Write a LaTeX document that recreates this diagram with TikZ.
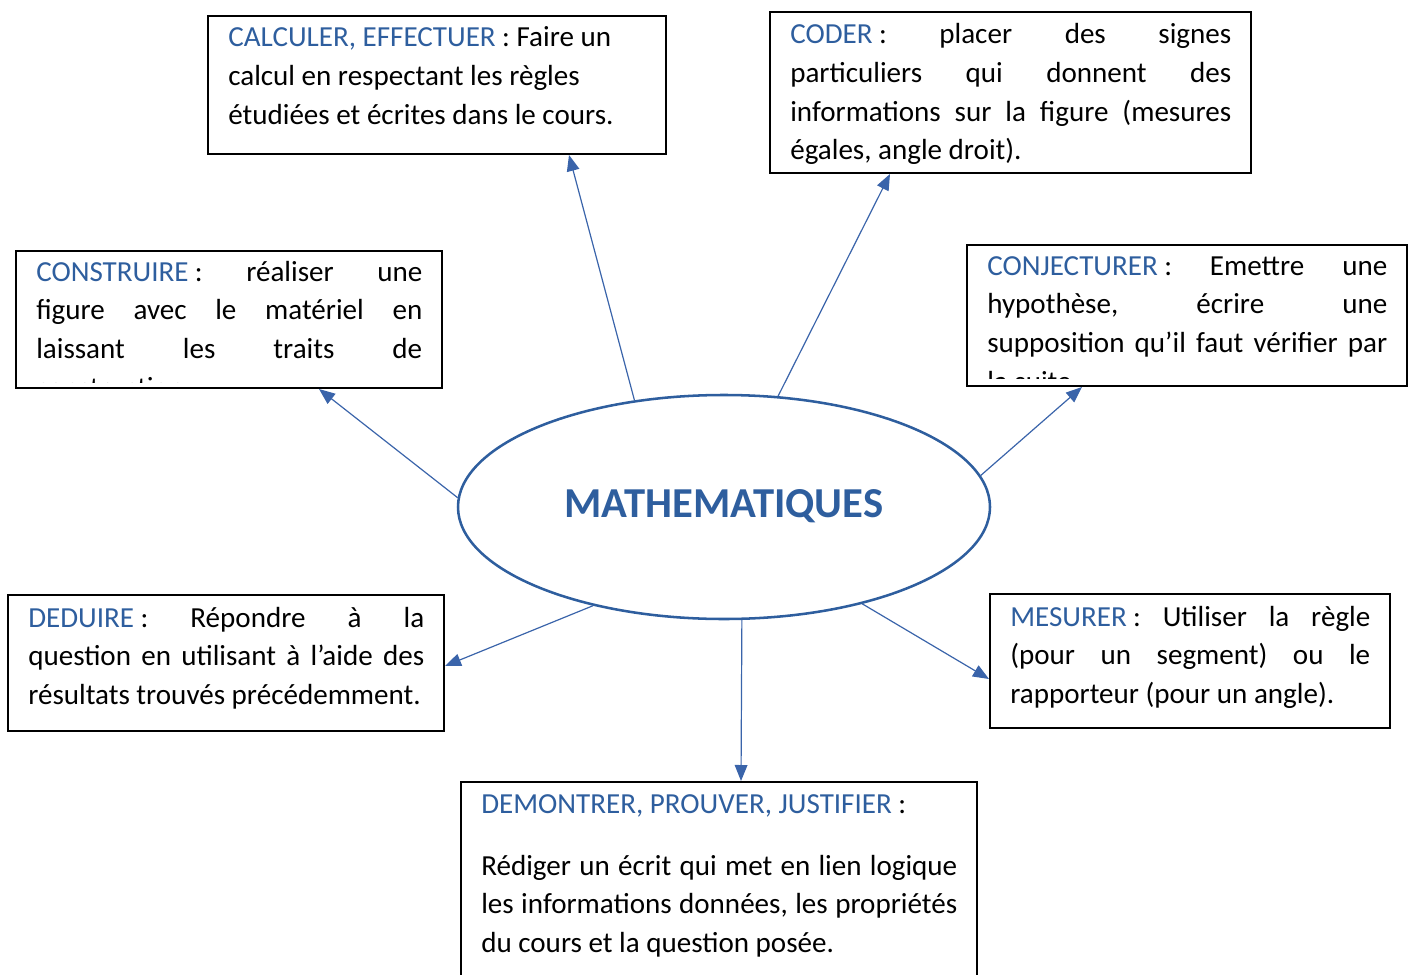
\documentclass[tikz,border=0pt]{standalone}
\usepackage{fontspec}
\setmainfont{Carlito}
\usetikzlibrary{shapes.geometric,arrows.meta,fit,calc}
\definecolor{mblue}{RGB}{46,94,158}
\definecolor{ablue}{RGB}{58,100,170}
\hyphenpenalty=10000
\exhyphenpenalty=10000
\tolerance=10000
\emergencystretch=20pt
\frenchspacing
\newcommand{\bodyfont}{\fontsize{21.8pt}{29pt}\selectfont}
\newcommand{\titlefont}{\fontsize{32pt}{36pt}\selectfont\bfseries}
\newcommand{\nl}{\hfill\break}
\tikzset{
  box/.style={draw=black, line width=1.5pt, inner sep=0pt},
  txt/.style={anchor=base west, inner sep=0pt, align=justify, font=\bodyfont},
  conn/.style={draw=ablue, line width=0.9pt, -{Triangle[length=12pt,width=9.5pt]}},
  ell/.style={ellipse, draw=mblue, line width=1.9pt, minimum width=399pt, minimum height=168pt, inner sep=0pt,
    font=\titlefont, text=mblue}
}
\newcommand{\lb}[1]{\textcolor{mblue}{#1}\kern0.22em:}
\begin{document}
\begin{tikzpicture}[x=0.75pt,y=-0.75pt]
\path[use as bounding box, clip] (0,0) rectangle (1416,974);

\node[ell] (m) at (724,507) {\raisebox{4.5pt}{MATHEMATIQUES}};

% boxes
\node[box, fit={(208,16) (666,154)}] (calc) {};
\node[box, fit={(770,12) (1251,173)}] (coder) {};
\node[box, fit={(16,251) (442,388)}] (constr) {};
\node[box, fit={(967,245) (1407,386)}] (conj) {};
\node[box, fit={(8,595) (444,731)}] (ded) {};
\node[box, fit={(990,594) (1390,728)}] (mes) {};
\node[box, fit={(461,782) (977,1000)}] (dem) {};

% texts
\node[txt, text width=313.5pt] (tcalc) at (228,47)
  {\lb{CALCULER, EFFECTUER} Faire un\nl calcul en respectant les règles\nl étudiées et écrites dans le cours.};
\node[txt, text width=330.75pt] (tcoder) at (790,44)
  {\lb{CODER} placer des signes\linebreak particuliers qui donnent des\linebreak informations sur la figure (mesures\linebreak égales, angle droit).};
\begin{scope}
\clip ($(constr.south west)+(0,-7)$) rectangle (constr.north east);
\node[txt, text width=289.5pt] (tconstr) at (36,281)
  {\lb{CONSTRUIRE} réaliser une\linebreak figure avec le matériel en\linebreak laissant les traits de\linebreak construction.};
\end{scope}
\begin{scope}
\clip ($(conj.south west)+(0,-9)$) rectangle (conj.north east);
\node[txt, text width=300pt] (tconj) at (987,275)
  {\lb{CONJECTURER} Emettre une\linebreak hypothèse, écrire une\linebreak supposition qu’il faut vérifier par\linebreak la suite.};
\end{scope}
\node[txt, text width=297pt] (tded) at (28,627)
  {\lb{DEDUIRE} Répondre à la\linebreak question en utilisant à l’aide des\linebreak résultats trouvés précédemment.};
\node[txt, text width=270pt] (tmes) at (1010,626)
  {\lb{MESURER} Utiliser la règle\linebreak (pour un segment) ou le\linebreak rapporteur (pour un angle).};
\node[txt, text width=357pt] (tdem) at (481,813)
  {\lb{DEMONTRER, PROUVER, JUSTIFIER}\par\vspace{17.6pt}
   Rédiger un écrit qui met en lien logique\linebreak les informations données, les propriétés\linebreak du cours et la question posée.};

% connectors
\draw[conn] (m.130) -- ($(calc.south west)+(362,0)$);
\draw[conn] (m.64.7) -- ($(coder.south west)+(121,0)$);
\draw[conn] (m.178.7) -- ($(constr.south west)+(304,0)$);
\draw[conn] (m.7.4) -- ($(conj.south west)+(116,0)$);
\draw[conn] (m.217.8) -- ($(ded.north east)+(0,72)$);
\draw[conn] (m.325.4) -- ($(mes.north west)+(0,86)$);
\draw[conn] (m.279.1) -- ($(dem.north west)+(281,0)$);
\end{tikzpicture}
\end{document}
